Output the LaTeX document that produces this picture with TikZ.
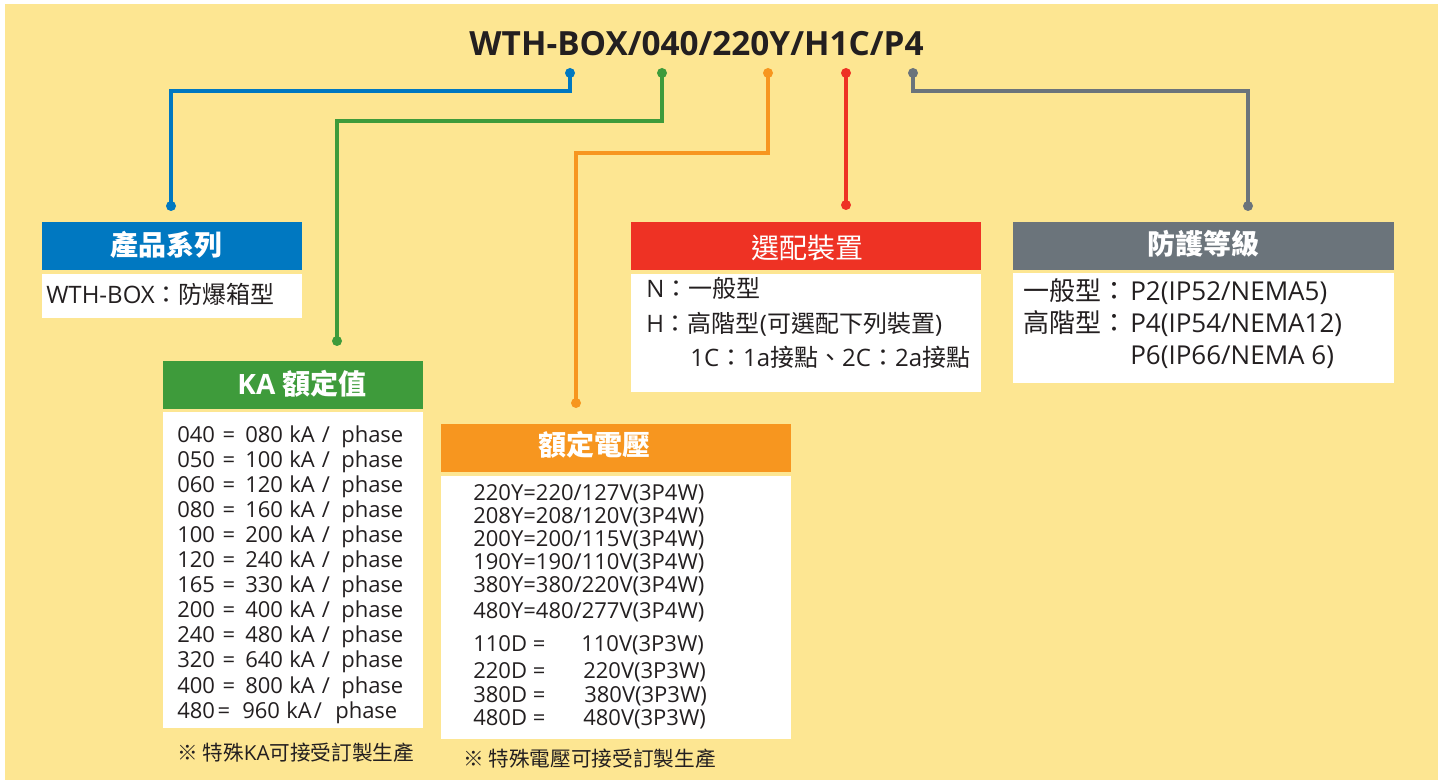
\documentclass[tikz,border=0pt]{standalone}
\usepackage{fontspec}
\setmainfont{Open Sans}
\newfontfamily\cjk{Noto Sans CJK TC}
\definecolor{bg}{HTML}{FDE692}
\definecolor{cblue}{HTML}{0078C1}
\definecolor{cgreen}{HTML}{3E9B3B}
\definecolor{corange}{HTML}{F7961F}
\definecolor{cred}{HTML}{EE3224}
\definecolor{cgray}{HTML}{6B747B}
\definecolor{tdark}{HTML}{231F20}
\tikzset{
  box/.style={rectangle, inner sep=0, outer sep=0, draw=none},
  hdrtxt/.style={inner sep=0, text=white, font=\cjk\fontsize{21}{24}\selectfont\bfseries},
  txt/.style={anchor=base west, inner sep=0, text=tdark, font=\fontsize{18}{20}\selectfont},
  smalltxt/.style={anchor=base west, inner sep=0, text=tdark, font=\fontsize{16.5}{18}\selectfont},
  ctxt/.style={anchor=base, inner sep=0, text=tdark, font=\fontsize{16.5}{18}\selectfont},
  notetxt/.style={anchor=base west, inner sep=0, text=tdark, font=\cjk\fontsize{15.5}{18}\selectfont},
  dot/.style={circle, fill=#1, inner sep=0, minimum size=7.5pt},
  conn/.style={draw=#1, line width=2.4pt, line join=miter}
}
\begin{document}
\begin{tikzpicture}[x=0.75pt,y=-0.75pt]
\useasboundingbox (0,0) rectangle (1438,780);
\fill[bg] (5,4) rectangle (1438,780);

% title
\node[anchor=base, inner sep=0, text=tdark, font=\fontsize{25}{30}\selectfont\bfseries] (title) at (696.5,56) {WTH-BOX/040/220Y/H1C/P4};

% dots
\node[dot=cblue] (b1) at (570,73) {};
\node[dot=cgreen] (g1) at (662,73) {};
\node[dot=corange] (o1) at (768,73) {};
\node[dot=cred] (r1) at (846,73) {};
\node[dot=cgray] (k1) at (913,73) {};
\node[dot=cblue] (b2) at (171,206) {};
\node[dot=cgreen] (g2) at (337,341) {};
\node[dot=corange] (o2) at (576,403) {};
\node[dot=cred] (r2) at (846,205) {};
\node[dot=cgray] (k2) at (1248,206) {};

% connectors
\draw[conn=cblue] (b1.center) -- ++(0,18) -| (b2.center);
\draw[conn=cgreen] (g1.center) -- ++(0,48) -| (g2.center);
\draw[conn=corange] (o1.center) -- ++(0,80) -| (o2.center);
\draw[conn=cred] (r1.center) -- (r2.center);
\draw[conn=cgray] (k1.center) -- ++(0,18) -| (k2.center);

% boxes
\node[box, fill=cblue, minimum width=195pt, minimum height=36pt] (bh) at (172,246) {};
\node[box, fill=white, minimum width=195pt, minimum height=33pt] (bb) at (172,296) {};
\node[box, fill=cred, minimum width=262.5pt, minimum height=36pt] (rh) at (806,246) {};
\node[box, fill=white, minimum width=262.5pt, minimum height=88.5pt] (rb) at (806,333) {};
\node[box, fill=cgray, minimum width=285.75pt, minimum height=36pt] (kh) at (1203.5,246) {};
\node[box, fill=white, minimum width=285.75pt, minimum height=82.5pt] (kb) at (1203.5,328) {};
\node[box, fill=cgreen, minimum width=195pt, minimum height=36pt] (gh) at (293,385) {};
\node[box, fill=white, minimum width=195pt, minimum height=237pt] (gb) at (293,570) {};
\node[box, fill=corange, minimum width=262.5pt, minimum height=36pt] (oh) at (616,448) {};
\node[box, fill=white, minimum width=262.5pt, minimum height=197.25pt] (ob) at (616,607.5) {};

% header texts
\node[hdrtxt] (bht) at (166,245) {產品系列};
\node[hdrtxt, font=\cjk\fontsize{21}{24}\selectfont] (rht) at (807.5,247.5) {選配裝置};
\node[hdrtxt] (kht) at (1203.5,243.5) {防護等級};
\node[hdrtxt, font=\fontsize{21}{24}\selectfont\bfseries] (ght) at (302,383.5) {KA {\cjk\bfseries 額定值}};
\node[hdrtxt] (oht) at (594.5,445) {額定電壓};

% blue body
\node[txt] (bt1) at (46,304) {WTH-BOX{\cjk：防爆箱型}};

% red body
\node[txt] (rt1) at (646,298) {N{\cjk：一般型}};
\node[txt] (rt2) at (646,333) {H{\cjk：高階型}(\cjk 可選配下列裝置\rmfamily)};
\node[txt] (rt3) at (690,367) {1C{\cjk：}1a{\cjk 接點、}2C{\cjk：}2a{\cjk 接點}};

% gray body
\node[txt, font=\cjk\fontsize{19.5}{22}\selectfont] (kt1a) at (1023,301) {一般型：};
\node[txt, font=\fontsize{19.5}{22}\selectfont] (kt1b) at (1130,301) {P2(IP52/NEMA5)};
\node[txt, font=\cjk\fontsize{19.5}{22}\selectfont] (kt2a) at (1023,333) {高階型：};
\node[txt, font=\fontsize{19.5}{22}\selectfont] (kt2b) at (1130,333) {P4(IP54/NEMA12)};
\node[txt, font=\fontsize{19.5}{22}\selectfont] (kt3b) at (1130,364) {P6(IP66/NEMA 6)};

% green body
\foreach \a/\b [count=\i from 0] in {040/080,050/100,060/120,080/160,100/200,120/240,165/330,200/400,240/480,320/640,400/800}{
  \pgfmathsetmacro{\yy}{442+25.1*\i}
  \node[smalltxt] (ka\i) at (177,\yy) {\a};
  \node[ctxt] (ke\i) at (229,\yy) {=};
  \node[smalltxt] (kv\i) at (245,\yy) {\b};
  \node[smalltxt] (ku\i) at (289,\yy) {kA};
  \node[ctxt] (ks\i) at (326,\yy) {/};
  \node[smalltxt] (kp\i) at (341,\yy) {phase};
}
\node[smalltxt] (kaL) at (177,718) {480};
\node[ctxt] (keL) at (224,718) {=};
\node[smalltxt] (kvL) at (242,718) {960};
\node[smalltxt] (kuL) at (286,718) {kA};
\node[ctxt] (ksL) at (318,718) {/};
\node[smalltxt] (kpL) at (335,718) {phase};

% orange body
\node[smalltxt] (v1) at (473,500) {220Y=220/127V(3P4W)};
\node[smalltxt] (v2) at (473,523) {208Y=208/120V(3P4W)};
\node[smalltxt] (v3) at (473,546) {200Y=200/115V(3P4W)};
\node[smalltxt] (v4) at (473,569) {190Y=190/110V(3P4W)};
\node[smalltxt] (v5) at (473,592) {380Y=380/220V(3P4W)};
\node[smalltxt] (v6) at (473,618) {480Y=480/277V(3P4W)};
\node[smalltxt] (d1a) at (473,651) {110D =};
\node[smalltxt] (d1b) at (581,651) {110V(3P3W)};
\node[smalltxt] (d2a) at (473,678) {220D =};
\node[smalltxt] (d2b) at (583,678) {220V(3P3W)};
\node[smalltxt] (d3a) at (473,702) {380D =};
\node[smalltxt] (d3b) at (584,702) {380V(3P3W)};
\node[smalltxt] (d4a) at (473,725) {480D =};
\node[smalltxt] (d4b) at (583,725) {480V(3P3W)};

% notes
\node[notetxt] (n1) at (177,760) {※ 特殊{\rmfamily KA}可接受訂製生產};
\node[notetxt] (n2) at (463,766) {※ 特殊電壓可接受訂製生產};
\end{tikzpicture}
\end{document}
